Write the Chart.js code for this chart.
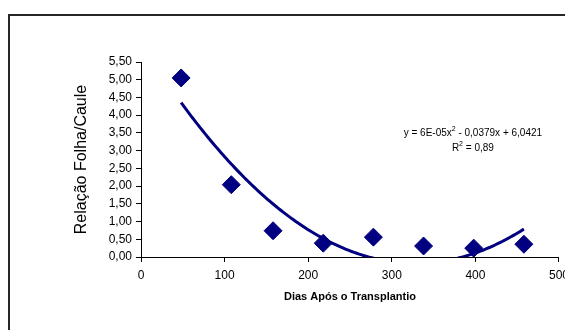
<!DOCTYPE html>
<html>
<head>
<meta charset="utf-8">
<script src="https://cdn.jsdelivr.net/npm/chart.js@4/dist/chart.umd.min.js"></script>
<style>
  html, body { margin: 0; padding: 0; overflow: hidden; background: #fff; width: 565px; height: 330px; }
  #frame { position: absolute; left: 8px; top: 14px; width: 700px; height: 500px; border: 2px solid #262626; }
  #wrap { position: absolute; left: 0; top: 0; width: 575px; height: 330px; }
</style>
</head>
<body>
<div id="frame"></div>
<div id="wrap"><canvas id="chart"></canvas></div>
<script>
// Dias após o transplantio / relação folha-caule
const days = [48, 108, 158, 218, 278, 338, 398, 458];
const ratio = [5.05, 2.04, 0.74, 0.39, 0.56, 0.31, 0.25, 0.36];

// polynomial trendline (x², x, 1) as in the chart label
const trendCoef = [5.77e-5, -0.0379, 6.0421];
const eqText = ['y = 6E-05x', '2', ' - 0,0379x + 6,0421'];
const r2Text = ['R', '2', ' = 0,89'];
const eqPos = { x: 397, y: 3.5, y2: 3.08 };

const navy = '#000080';

const trendData = [];
for (let x = days[0]; x <= days[days.length - 1]; x += 2) {
    trendData.push({ x: x, y: trendCoef[0] * x * x + trendCoef[1] * x + trendCoef[2] });
}

const points = days.map((d, i) => ({ x: d, y: ratio[i] }));

// draw the equation text with superscripts
function drawSup(ctx, parts, cx, cy) {
    const base = '10px "Liberation Sans", Arial, sans-serif';
    const small = '7px "Liberation Sans", Arial, sans-serif';
    ctx.font = base;
    const w0 = ctx.measureText(parts[0]).width;
    const w2 = ctx.measureText(parts[2]).width;
    ctx.font = small;
    const w1 = ctx.measureText(parts[1]).width;
    let x = cx - (w0 + w1 + w2) / 2;
    ctx.textBaseline = 'middle';
    ctx.textAlign = 'left';
    ctx.fillStyle = '#000';
    ctx.font = base;
    ctx.fillText(parts[0], x, cy);
    x += w0;
    ctx.font = small;
    ctx.fillText(parts[1], x, cy - 4);
    x += w1;
    ctx.font = base;
    ctx.fillText(parts[2], x, cy);
}

const equationLabel = {
    id: 'equationLabel',
    afterDraw(chart) {
        const ctx = chart.ctx;
        const xs = chart.scales.x;
        const ys = chart.scales.y;
        ctx.save();
        drawSup(ctx, eqText, xs.getPixelForValue(eqPos.x), ys.getPixelForValue(eqPos.y));
        drawSup(ctx, r2Text, xs.getPixelForValue(eqPos.x), ys.getPixelForValue(eqPos.y2));
        ctx.restore();
    }
};

Chart.defaults.font.family = '"Liberation Sans", Arial, sans-serif';
Chart.defaults.color = '#000';

new Chart(document.getElementById('chart'), {
    type: 'scatter',
    data: {
        datasets: [
            {
                label: 'Relação',
                data: points,
                pointStyle: 'rectRot',
                pointRadius: 9,
                pointBackgroundColor: navy,
                pointBorderColor: navy,
                pointBorderWidth: 1,
                clip: false,
                order: 1
            },
            {
                label: 'Tendência',
                type: 'line',
                data: trendData,
                borderColor: navy,
                borderWidth: 3,
                pointRadius: 0,
                fill: false,
                tension: 0,
                clip: 0,
                order: 2
            }
        ]
    },
    plugins: [equationLabel],
    options: {
        responsive: true,
        maintainAspectRatio: false,
        animation: false,
        layout: { padding: { left: 70, top: 62, right: 11, bottom: 26 } },
        plugins: {
            legend: { display: false },
            tooltip: { enabled: false }
        },
        scales: {
            x: {
                type: 'linear',
                min: 0,
                max: 500,
                ticks: { stepSize: 100, padding: 6, font: { size: 12 }, maxRotation: 0 },
                grid: { drawOnChartArea: false, tickLength: 5, color: '#000' },
                border: { color: '#000', width: 1 },
                title: {
                    display: true,
                    text: 'Dias Após o Transplantio',
                    font: { size: 11, weight: 'bold' },
                    padding: { top: 0, bottom: 0 }
                },
                afterFit: (s) => { s.height = 47; }
            },
            y: {
                min: 0,
                max: 5.5,
                ticks: {
                    stepSize: 0.5,
                    padding: 4,
                    font: { size: 12 },
                    callback: (v) => v.toFixed(2).replace('.', ',')
                },
                grid: { drawOnChartArea: false, tickLength: 5, color: '#000' },
                border: { color: '#000', width: 1 },
                title: {
                    display: true,
                    text: 'Relação Folha/Caule',
                    font: { size: 16 },
                    padding: { top: 2, bottom: 0 }
                },
                afterFit: (s) => { s.width = 71; }
            }
        }
    }
});
</script>
</body>
</html>
